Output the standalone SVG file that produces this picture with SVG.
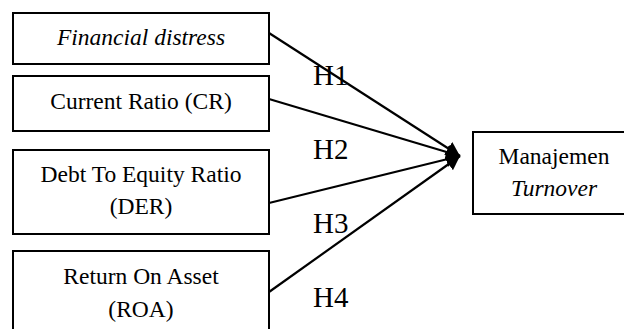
<svg xmlns="http://www.w3.org/2000/svg" width="624" height="329" viewBox="0 0 624 329">
<defs>
<style>
.box{fill:#fff;stroke:#000;stroke-width:2}
.t{font-family:"Liberation Serif","Times New Roman",serif;font-size:23.5px;fill:#000;text-anchor:middle}
.i{font-style:italic}
.h{font-family:"Liberation Serif","Times New Roman",serif;font-size:29px;fill:#000}
.c{stroke:#000;stroke-width:2.2;fill:none;marker-end:url(#ah)}
</style>
<marker id="ah" markerUnits="userSpaceOnUse" markerWidth="16" markerHeight="16" refX="14" refY="7.5" orient="auto">
<path d="M0,0 L14,7.5 L0,15 z" fill="#000"/>
</marker>
</defs>
<rect width="624" height="329" fill="#fff"/>
<g id="n1"><rect class="box" x="13" y="13" width="256" height="51"/><text class="t i" x="141" y="45">Financial distress</text></g>
<g id="n2"><rect class="box" x="13" y="76" width="256" height="55"/><text class="t" x="141" y="109">Current Ratio (CR)</text></g>
<g id="n3"><rect class="box" x="13" y="150" width="256" height="84"/><text class="t" x="141" y="182">Debt To Equity Ratio</text><text class="t" x="141" y="214">(DER)</text></g>
<g id="n4"><rect class="box" x="13" y="251" width="256" height="100"/><text class="t" x="141" y="284">Return On Asset</text><text class="t" x="141" y="317">(ROA)</text></g>
<g id="n5"><rect class="box" x="473" y="132" width="165" height="82"/><text class="t" x="554" y="164">Manajemen</text><text class="t i" x="554" y="196">Turnover</text></g>
<g id="connectors">
<line class="c" x1="269" y1="33" x2="460" y2="156"/>
<line class="c" x1="269" y1="99" x2="460" y2="156"/>
<line class="c" x1="269" y1="203" x2="460" y2="156"/>
<line class="c" x1="269" y1="292" x2="460" y2="156"/>
</g>
<g id="labels">
<text class="h" x="313" y="85">H1</text>
<text class="h" x="313" y="159">H2</text>
<text class="h" x="313" y="233">H3</text>
<text class="h" x="313" y="307">H4</text>
</g>
</svg>
